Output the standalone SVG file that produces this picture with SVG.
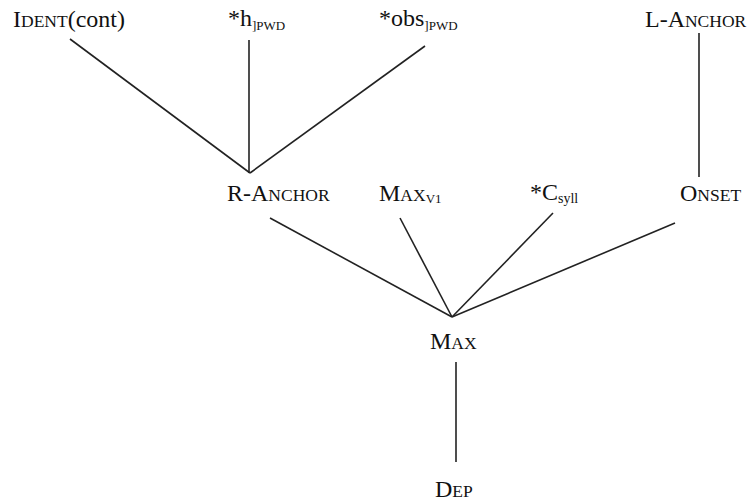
<svg xmlns="http://www.w3.org/2000/svg" width="748" height="502" viewBox="0 0 748 502">
<style>
text{font-family:"Liberation Serif","Times New Roman",serif;font-size:24px;fill:#111}
.sc{font-size:17.5px}
.sub{font-size:13px}
.sub2{font-size:14px}
line{stroke:#222;stroke-width:1.6;stroke-linecap:butt}
</style>
<rect width="748" height="502" fill="#fff"/>
<g id="connectors">
<line x1="70" y1="39" x2="250" y2="173"/>
<line x1="249" y1="40" x2="249" y2="173"/>
<line x1="425" y1="46" x2="250" y2="173"/>
<line x1="699" y1="33" x2="699" y2="177"/>
<line x1="270" y1="218" x2="452" y2="317"/>
<line x1="400" y1="218" x2="452" y2="317"/>
<line x1="553" y1="213" x2="452" y2="317"/>
<line x1="675" y1="223" x2="452" y2="317"/>
<line x1="456" y1="362" x2="456" y2="462"/>
</g>
<g id="ident"><text x="13" y="27">I<tspan class="sc">DENT</tspan>(cont)</text></g>
<g id="h"><text x="228" y="26">*h<tspan class="sub" dy="4">]PWD</tspan></text></g>
<g id="obs"><text x="379" y="26">*obs<tspan class="sub" dy="4">]PWD</tspan></text></g>
<g id="lanchor"><text x="645" y="27">L-A<tspan class="sc">NCHOR</tspan></text></g>
<g id="ranchor"><text x="227" y="201">R-A<tspan class="sc">NCHOR</tspan></text></g>
<g id="maxv1"><text x="379" y="201">M<tspan class="sc">AX</tspan><tspan class="sub" dy="2">V1</tspan></text></g>
<g id="csyll"><text x="530" y="200">*C<tspan class="sub2" dy="3">syll</tspan></text></g>
<g id="onset"><text x="680" y="201">O<tspan class="sc">NSET</tspan></text></g>
<g id="max"><text x="430" y="349">M<tspan class="sc">AX</tspan></text></g>
<g id="dep"><text x="435" y="497">D<tspan class="sc">EP</tspan></text></g>
</svg>
